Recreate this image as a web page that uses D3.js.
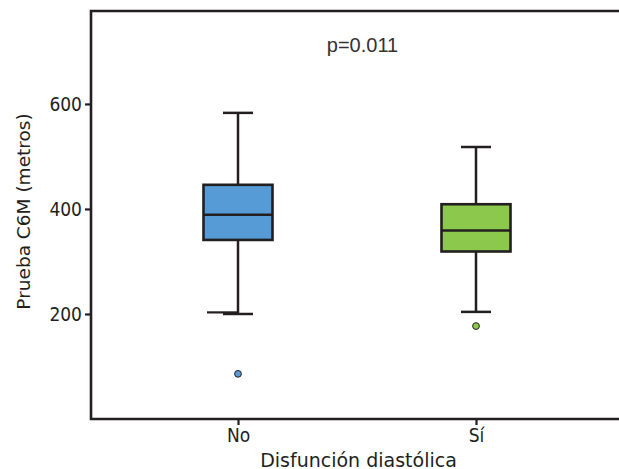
<!DOCTYPE html>
<html>
<head>
<meta charset="utf-8">
<script src="https://cdn.jsdelivr.net/npm/d3@7"></script>
<style>
  body { margin: 0; background: #fff; }
  svg { display: block; }
</style>
</head>
<body>
<svg id="chart" width="619" height="469"></svg>
<script>
// data
const groups = ["No", "Sí"];
const lowerWhisker = [200, 204];
const q1 = [341, 319];
const medians = [389, 359];
const q3 = [446, 409];
const upperWhisker = [583, 518];
const outliers = [86, 177];
const extraCap = [203, null]; // the doubled lower cap on "No"
const yTicks = [200, 400, 600];
const fills = ["#569ad6", "#8cc84b"];
const pLabel = "p=0.011";

const ink = "#231f20";
const svg = d3.select("#chart");

// plot frame (right edge runs past the window)
const plotLeft = 91, plotTop = 11, plotBottom = 419, plotRight = 700;

const x = d3.scalePoint().domain(groups).range([119, 595]).padding(0.5);
const y = d3.scaleLinear().domain([0, 777]).range([plotBottom, plotTop]);

const boxW = 69, capW = 30;

// y axis
const yAxis = svg.append("g")
  .attr("transform", `translate(${plotLeft},0)`)
  .call(d3.axisLeft(y).tickValues(yTicks).tickSize(6).tickPadding(3));
yAxis.select(".domain").remove();
yAxis.selectAll("line").attr("stroke", ink).attr("stroke-width", 2.2);
yAxis.selectAll("text")
  .attr("fill", ink)
  .style("font-family", "'DejaVu Sans Condensed', 'DejaVu Sans', sans-serif")
  .style("font-size", "19px");

// x axis
const xAxis = svg.append("g")
  .attr("transform", `translate(0,${plotBottom})`)
  .call(d3.axisBottom(x).tickSize(6).tickPadding(4));
xAxis.select(".domain").remove();
xAxis.selectAll("line").attr("stroke", ink).attr("stroke-width", 2.2);
xAxis.selectAll("text")
  .attr("fill", ink)
  .style("font-family", "'DejaVu Sans Condensed', 'DejaVu Sans', sans-serif")
  .style("font-size", "19px");

// frame
svg.append("path")
  .attr("d", `M${plotRight},${plotTop}H${plotLeft}V${plotBottom}H${plotRight}`)
  .attr("fill", "none")
  .attr("stroke", ink)
  .attr("stroke-width", 2.6);

// boxes
const idx = d3.range(groups.length);
const g = svg.append("g");

// whisker stems
g.selectAll(".stem").data(idx).enter().append("line")
  .attr("x1", i => x(groups[i])).attr("x2", i => x(groups[i]))
  .attr("y1", i => y(upperWhisker[i])).attr("y2", i => y(lowerWhisker[i]))
  .attr("stroke", ink).attr("stroke-width", 2.5);

// caps
const caps = idx.flatMap(i => [upperWhisker[i], lowerWhisker[i]].map(v => ({ i, v })));
g.selectAll(".cap").data(caps).enter().append("line")
  .attr("x1", d => x(groups[d.i]) - capW / 2).attr("x2", d => x(groups[d.i]) + capW / 2)
  .attr("y1", d => y(d.v)).attr("y2", d => y(d.v))
  .attr("stroke", ink).attr("stroke-width", 2.5);

g.selectAll(".extracap").data(idx.filter(i => extraCap[i] != null)).enter().append("line")
  .attr("x1", i => x(groups[i]) - capW - 1).attr("x2", i => x(groups[i]))
  .attr("y1", i => y(extraCap[i])).attr("y2", i => y(extraCap[i]))
  .attr("stroke", ink).attr("stroke-width", 2.2);

// box bodies
g.selectAll(".box").data(idx).enter().append("rect")
  .attr("x", i => x(groups[i]) - boxW / 2)
  .attr("width", boxW)
  .attr("y", i => y(q3[i]))
  .attr("height", i => y(q1[i]) - y(q3[i]))
  .attr("fill", i => fills[i])
  .attr("stroke", ink).attr("stroke-width", 2.6);

// medians
g.selectAll(".median").data(idx).enter().append("line")
  .attr("x1", i => x(groups[i]) - boxW / 2).attr("x2", i => x(groups[i]) + boxW / 2)
  .attr("y1", i => y(medians[i])).attr("y2", i => y(medians[i]))
  .attr("stroke", ink).attr("stroke-width", 2.6);

// outliers
g.selectAll(".out").data(idx).enter().append("circle")
  .attr("cx", i => x(groups[i]))
  .attr("cy", i => y(outliers[i]))
  .attr("r", 3.4)
  .attr("fill", i => fills[i])
  .attr("stroke", ink).attr("stroke-width", 1);

// p value
svg.append("text")
  .attr("x", 362.5).attr("y", 51.5)
  .attr("text-anchor", "middle")
  .attr("fill", "#333")
  .style("font-family", "'Liberation Sans', Arial, sans-serif")
  .style("font-size", "20px")
  .text(pLabel);

// axis titles
svg.append("text")
  .attr("x", 358.5).attr("y", 466.5)
  .attr("text-anchor", "middle")
  .attr("fill", ink)
  .style("font-family", "'DejaVu Sans', sans-serif")
  .style("font-size", "19px")
  .text("Disfunción diastólica");

svg.append("text")
  .attr("transform", "translate(30,211.5) rotate(-90)")
  .attr("text-anchor", "middle")
  .attr("fill", ink)
  .style("font-family", "'DejaVu Sans', sans-serif")
  .style("font-size", "18.5px")
  .text("Prueba C6M (metros)");
</script>
</body>
</html>
